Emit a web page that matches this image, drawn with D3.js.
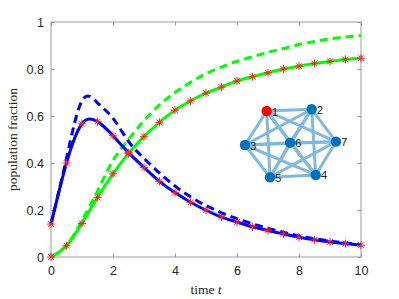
<!DOCTYPE html>
<html>
<head>
<meta charset="utf-8">
<script src="https://cdn.jsdelivr.net/npm/d3@7"></script>
<style>
  body { margin: 0; background: #fff; }
</style>
</head>
<body>
<svg id="chart"></svg>
<script>
// time grid of the markers
var times = [0, 0.5, 1, 1.5, 2, 2.5, 3, 3.5, 4, 4.5, 5, 5.5, 6, 6.5, 7, 7.5, 8, 8.5, 9, 9.5, 10];

// infected fraction (blue) and recovered fraction (green), solid = model, dashed = approx
var infSolid  = [0.14, 0.40, 0.567, 0.576, 0.516, 0.444, 0.381, 0.322, 0.274, 0.233, 0.199, 0.170, 0.149, 0.128, 0.113, 0.098, 0.084, 0.073, 0.064, 0.057, 0.050];
var infDashed = [0.14, 0.42, 0.665, 0.656, 0.59, 0.492, 0.42, 0.357, 0.302, 0.256, 0.219, 0.188, 0.163, 0.141, 0.122, 0.105, 0.090, 0.078, 0.068, 0.060, 0.052];
var recSolid  = [0, 0.048, 0.143, 0.253, 0.354, 0.440, 0.512, 0.573, 0.625, 0.664, 0.697, 0.723, 0.749, 0.767, 0.784, 0.800, 0.812, 0.824, 0.832, 0.841, 0.846];
var recDashed = [0, 0.05, 0.155, 0.28, 0.41, 0.50, 0.58, 0.647, 0.70, 0.743, 0.78, 0.808, 0.833, 0.852, 0.871, 0.887, 0.904, 0.917, 0.928, 0.936, 0.942];

var xTicks = [0, 2, 4, 6, 8, 10];
var yTicks = [0, 0.2, 0.4, 0.6, 0.8, 1];

// contact network inset (layout units)
var nodeIds = [1, 2, 3, 4, 5, 6, 7];
var nodeX = [0.238, 0.733, 0, 0.777, 0.275, 0.495, 1.0];
var nodeY = [0.975, 1.0, 0.475, 0.034, 0, 0.509, 0.524];
var seedNode = 1;
var edges = [[1,2],[1,3],[1,4],[1,5],[1,6],[1,7],[2,3],[2,4],[2,5],[2,6],[2,7],
             [3,4],[3,5],[3,6],[3,7],[4,5],[4,6],[4,7],[5,6],[5,7],[6,7]];

var W = 399, H = 299;
var sansFont = '"Liberation Sans", Arial, Helvetica, sans-serif';
var serifFont = '"Liberation Serif", "Times New Roman", "DejaVu Serif", serif';
var svg = d3.select('#chart').attr('width', W).attr('height', H);

var x = d3.scaleLinear().domain([0, 10]).range([51, 361]);
var y = d3.scaleLinear().domain([0, 1]).range([257, 22]);
var axisCol = '#9a9a9a';

// box
svg.append('rect')
  .attr('x', x(0)).attr('y', y(1))
  .attr('width', x(10) - x(0)).attr('height', y(0) - y(1))
  .attr('fill', 'none').attr('stroke', axisCol).attr('stroke-width', 1);

function styleAxis(g){
  g.select('.domain').remove();
  g.selectAll('.tick line').attr('stroke', axisCol);
  g.selectAll('.tick text')
    .style('font-family', sansFont).style('font-size', '12.5px').style('fill', '#262626');
}
svg.append('g').attr('transform', 'translate(0,' + y(0) + ')')
  .call(d3.axisBottom(x).tickValues(xTicks).tickSizeInner(-3.5).tickSizeOuter(0).tickPadding(9))
  .call(styleAxis);
svg.append('g').attr('transform', 'translate(0,' + y(1) + ')')
  .call(d3.axisTop(x).tickValues(xTicks).tickSizeInner(-3.5).tickSizeOuter(0).tickFormat(''))
  .call(styleAxis);
svg.append('g').attr('transform', 'translate(' + x(0) + ',0)')
  .call(d3.axisLeft(y).tickValues(yTicks).tickSizeInner(-3.5).tickSizeOuter(0).tickPadding(7).tickFormat(d3.format('~g')))
  .call(styleAxis);
svg.append('g').attr('transform', 'translate(' + x(10) + ',0)')
  .call(d3.axisRight(y).tickValues(yTicks).tickSizeInner(-3.5).tickSizeOuter(0).tickFormat(''))
  .call(styleAxis);

// labels
var xl = svg.append('text')
  .style('font-family', serifFont).style('font-size', '13.5px').style('fill', '#262626')
  .attr('x', 206).attr('y', 294).attr('text-anchor', 'middle');
xl.append('tspan').text('time ');
xl.append('tspan').style('font-style', 'italic').text('t');
svg.append('text')
  .style('font-family', serifFont).style('font-size', '13.5px').style('fill', '#262626')
  .attr('transform', 'translate(17,' + ((y(0) + y(1)) / 2) + ') rotate(-90)')
  .attr('text-anchor', 'middle')
  .text('population fraction');

// curves
var line = d3.line()
  .x(function(d){ return x(d[0]); })
  .y(function(d){ return y(d[1]); })
  .curve(d3.curveNatural);

function series(vals){ return times.map(function(t, i){ return [t, vals[i]]; }); }

var plot = svg.append('g');
plot.append('path').attr('d', line(series(recDashed)))
  .attr('fill', 'none').attr('stroke', '#00ff00').attr('stroke-width', 3).attr('stroke-dasharray', '8,5');
plot.append('path').attr('d', line(series(infDashed)))
  .attr('fill', 'none').attr('stroke', '#0000ff').attr('stroke-width', 3).attr('stroke-dasharray', '8,5');
plot.append('path').attr('d', line(series(recSolid)))
  .attr('fill', 'none').attr('stroke', '#00ff00').attr('stroke-width', 3);
plot.append('path').attr('d', line(series(infSolid)))
  .attr('fill', 'none').attr('stroke', '#0000ff').attr('stroke-width', 3);

// asterisk markers (simulation)
var star = 'M-4,0L4,0M0,-4L0,4M-2.9,-2.9L2.9,2.9M-2.9,2.9L2.9,-2.9';
[infSolid, recSolid].forEach(function(vals){
  plot.append('g').selectAll('path')
    .data(series(vals)).enter().append('path')
    .attr('transform', function(d){ return 'translate(' + x(d[0]) + ',' + y(d[1]) + ')'; })
    .attr('d', star)
    .attr('stroke', '#ff2020').attr('stroke-width', 1).attr('fill', 'none');
});

// network inset
var gx = d3.scaleLinear().domain([0, 1]).range([245, 336]);
var gy = d3.scaleLinear().domain([0, 1]).range([177.3, 109.3]);
var net = svg.append('g');
net.selectAll('line').data(edges).enter().append('line')
  .attr('x1', function(e){ return gx(nodeX[e[0]-1]); })
  .attr('y1', function(e){ return gy(nodeY[e[0]-1]); })
  .attr('x2', function(e){ return gx(nodeX[e[1]-1]); })
  .attr('y2', function(e){ return gy(nodeY[e[1]-1]); })
  .attr('stroke', '#80b8de').attr('stroke-width', 3);
net.selectAll('circle').data(nodeIds).enter().append('circle')
  .attr('cx', function(d, i){ return gx(nodeX[i]); })
  .attr('cy', function(d, i){ return gy(nodeY[i]); })
  .attr('r', 5.2)
  .attr('fill', function(d){ return d === seedNode ? '#ff0000' : '#0072bd'; });
net.selectAll('text').data(nodeIds).enter().append('text')
  .attr('x', function(d, i){ return gx(nodeX[i]) + 5; })
  .attr('y', function(d, i){ return gy(nodeY[i]) + 4.5; })
  .style('font-family', sansFont)
  .style('font-size', '11.5px').style('fill', '#262626')
  .text(function(d){ return d; });
</script>
</body>
</html>
